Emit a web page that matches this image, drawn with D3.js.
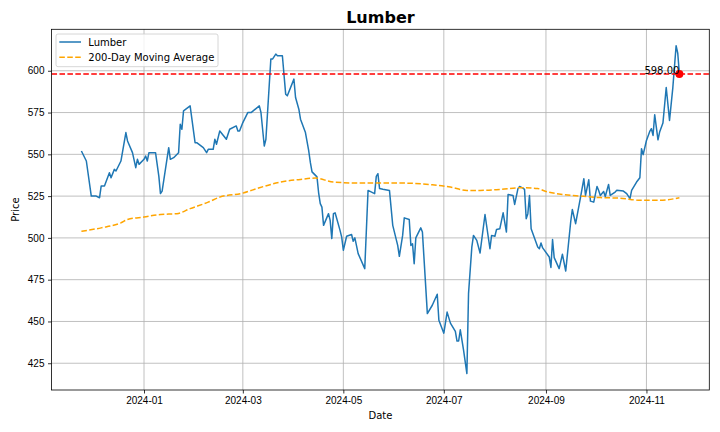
<!DOCTYPE html>
<html lang="en">
<head>
<meta charset="utf-8" />
<script src="https://cdn.jsdelivr.net/npm/d3@7"></script>
<style>
  body { margin: 0; background: #fff; }
  svg { font-family: "DejaVu Sans", sans-serif; }
  .grid line { stroke: #b0b0b0; stroke-width: 0.8; }
  .axis text { font-size: 10px; fill: #000; }
  .axis path, .axis line { stroke: #000; stroke-width: 0.8; }
</style>
</head>
<body>
<script>
// Lumber closing prices
var priceDates = [
  "2023-11-24","2023-11-27","2023-11-30","2023-12-03","2023-12-05","2023-12-06","2023-12-08","2023-12-11",
  "2023-12-12","2023-12-14","2023-12-15","2023-12-18","2023-12-21","2023-12-22","2023-12-25","2023-12-27",
  "2023-12-28","2023-12-29","2024-01-01","2024-01-02","2024-01-03","2024-01-04","2024-01-08","2024-01-10",
  "2024-01-11","2024-01-12","2024-01-16","2024-01-17","2024-01-19","2024-01-22","2024-01-23","2024-01-24",
  "2024-01-25","2024-01-29","2024-02-01","2024-02-02","2024-02-06","2024-02-08","2024-02-09","2024-02-12",
  "2024-02-13","2024-02-14","2024-02-16","2024-02-20","2024-02-22","2024-02-26","2024-02-27","2024-02-28",
  "2024-03-01","2024-03-04","2024-03-06","2024-03-11","2024-03-12","2024-03-14","2024-03-15","2024-03-18",
  "2024-03-19","2024-03-21","2024-03-22","2024-03-25","2024-03-27","2024-03-28","2024-04-01","2024-04-02",
  "2024-04-04","2024-04-05","2024-04-08","2024-04-10","2024-04-11","2024-04-12","2024-04-15","2024-04-16",
  "2024-04-17","2024-04-18","2024-04-19","2024-04-22","2024-04-23","2024-04-24","2024-04-25","2024-04-26",
  "2024-04-29","2024-04-30","2024-05-01","2024-05-03","2024-05-06","2024-05-07","2024-05-08","2024-05-10",
  "2024-05-14","2024-05-16","2024-05-20","2024-05-21","2024-05-22","2024-05-23","2024-05-25","2024-05-29",
  "2024-05-31","2024-06-03","2024-06-04","2024-06-06","2024-06-07","2024-06-10","2024-06-11","2024-06-12",
  "2024-06-13","2024-06-14","2024-06-17","2024-06-18","2024-06-21","2024-06-24","2024-06-27","2024-06-28",
  "2024-07-01","2024-07-03","2024-07-05","2024-07-08","2024-07-09","2024-07-10","2024-07-11","2024-07-13",
  "2024-07-15","2024-07-16","2024-07-18","2024-07-19","2024-07-21","2024-07-23","2024-07-26","2024-07-29",
  "2024-07-30","2024-08-01","2024-08-02","2024-08-04","2024-08-06","2024-08-08","2024-08-09","2024-08-12",
  "2024-08-13","2024-08-15","2024-08-16","2024-08-18","2024-08-19","2024-08-20","2024-08-21","2024-08-22",
  "2024-08-23","2024-08-27","2024-08-28","2024-08-29","2024-08-30","2024-09-03","2024-09-04","2024-09-05",
  "2024-09-06","2024-09-09","2024-09-11","2024-09-13","2024-09-16","2024-09-17","2024-09-19","2024-09-22",
  "2024-09-24","2024-09-25","2024-09-27","2024-09-28","2024-09-30","2024-10-02","2024-10-03","2024-10-04",
  "2024-10-06","2024-10-07","2024-10-09","2024-10-10","2024-10-13","2024-10-14","2024-10-18","2024-10-20",
  "2024-10-22","2024-10-23","2024-10-26","2024-10-28","2024-10-29","2024-10-30","2024-11-01","2024-11-03",
  "2024-11-04","2024-11-05","2024-11-06","2024-11-08","2024-11-09","2024-11-11","2024-11-13","2024-11-15",
  "2024-11-17","2024-11-19","2024-11-20","2024-11-21"
];
var priceValues = [
  552, 546, 525, 525, 524, 531, 531, 539,
  536, 541, 540, 546, 563, 558, 551, 542,
  547, 544, 547, 549, 546, 551, 551, 537,
  526.5, 528, 554, 547, 548, 551, 568, 565,
  576, 579, 557, 557, 554, 551, 553, 553,
  559, 556, 564, 559, 565, 567, 564, 564,
  569, 575, 575, 579, 575, 555, 559, 607,
  607, 610, 609, 609, 586, 585, 595, 584,
  577, 571, 563, 552, 545, 539.5, 536.5, 527,
  520.5, 518.4, 507.5, 514.5, 510.5, 499.6, 514.5, 515,
  504.5, 500.5, 492.6, 501, 502, 498, 500, 490.6,
  481.6, 528.4, 526.5, 536.8, 538.4, 529.5, 529.1, 528.4,
  507.5, 495.5, 489, 501.5, 512, 511, 495.5, 496.5,
  484.6, 500, 506, 503.5, 454.7, 459.7, 466.3, 450.7,
  443, 455.6, 449, 444, 438.3, 438.3, 445, 432.7,
  418.8, 466.7, 494.5, 501.5, 498.5, 491, 514, 493.5,
  501.5, 501, 505, 505.5, 515, 503.5, 526, 525.4,
  520, 529.5, 530.8, 529.8, 529, 511.5, 514.5, 525.4,
  505.5, 494.5, 493.5, 497, 494, 488.6, 482.3, 499,
  488.2, 481.6, 490.2, 480.2, 509.5, 517, 508.5, 524.4,
  535.4, 525.4, 534.8, 522, 521.4, 530.8, 528.4, 525.4,
  527.8, 524.8, 532, 525.4, 527.4, 528.5, 528, 526.5,
  523.5, 528.4, 533.4, 536, 553.4, 549.8, 558.3, 563.7,
  565.3, 561.3, 573.7, 558.7, 563.3, 568.7, 590, 570.3,
  589.8, 615, 610.5, 598
];

// 200-day moving average
var maDates = [
  "2023-11-24","2023-12-06","2023-12-18","2023-12-22","2024-01-01","2024-01-11","2024-01-21","2024-01-29",
  "2024-02-09","2024-02-16","2024-03-01","2024-03-11","2024-03-24","2024-04-05","2024-04-14","2024-04-25",
  "2024-05-11","2024-06-04","2024-06-24","2024-07-05","2024-07-15","2024-07-23","2024-08-04","2024-08-16",
  "2024-08-27","2024-09-01","2024-09-11","2024-09-22","2024-10-04","2024-10-16","2024-10-28","2024-11-09",
  "2024-11-21"
];
var maValues = [
  504, 506, 509, 511, 512.5, 514, 514.5, 517.5,
  521.4, 524.4, 526.8, 530, 533.4, 535, 535.8, 533.4,
  532.8, 532.8, 531.8, 530.4, 528.4, 528.4, 529, 530,
  529.5, 527.8, 526, 525, 524.1, 523.8, 522.5, 522.5,
  524
];

var lastPrice = 598;
var yTicks = [425, 450, 475, 500, 525, 550, 575, 600];
var xTickLabels = ["2024-01", "2024-03", "2024-05", "2024-07", "2024-09", "2024-11"];

var width = 720, height = 432;
var margin = { top: 29.3, right: 10.7, bottom: 42, left: 51.5 };
var innerW = width - margin.left - margin.right,
    innerH = height - margin.top - margin.bottom;

var parse = d3.timeParse("%Y-%m-%d"),
    parseMonth = d3.timeParse("%Y-%m");

var price = priceDates.map(function (d, i) { return { date: parse(d), value: priceValues[i] }; });
var ma = maDates.map(function (d, i) { return { date: parse(d), value: maValues[i] }; });

// matplotlib style 5% margins
var xExt = d3.extent(price, function (d) { return d.date; });
var xPad = (xExt[1] - xExt[0]) * 0.05;
var yExt = d3.extent(price.concat(ma), function (d) { return d.value; });
var yPad = (yExt[1] - yExt[0]) * 0.05;

var x = d3.scaleTime()
    .domain([new Date(+xExt[0] - xPad), new Date(+xExt[1] + xPad)])
    .range([0, innerW]);
var y = d3.scaleLinear()
    .domain([yExt[0] - yPad, yExt[1] + yPad])
    .range([innerH, 0]);

var svg = d3.select("body").append("svg")
    .attr("width", width)
    .attr("height", height);

svg.append("text")
    .attr("x", margin.left + innerW / 2)
    .attr("y", 23)
    .attr("text-anchor", "middle")
    .style("font-size", "16px")
    .style("font-weight", "bold")
    .text("Lumber");

var g = svg.append("g").attr("transform", "translate(" + margin.left + "," + margin.top + ")");

var xTicks = xTickLabels.map(function (s) { return parseMonth(s); });

// grid
g.append("g").attr("class", "grid")
    .selectAll("line").data(xTicks).enter().append("line")
    .attr("x1", function (d) { return x(d); }).attr("x2", function (d) { return x(d); })
    .attr("y1", 0).attr("y2", innerH);
g.append("g").attr("class", "grid")
    .selectAll("line").data(yTicks).enter().append("line")
    .attr("x1", 0).attr("x2", innerW)
    .attr("y1", function (d) { return y(d); }).attr("y2", function (d) { return y(d); });

var clip = g.append("clipPath").attr("id", "clip")
    .append("rect").attr("width", innerW).attr("height", innerH);

var plot = g.append("g").attr("clip-path", "url(#clip)");

var line = d3.line()
    .x(function (d) { return x(d.date); })
    .y(function (d) { return y(d.value); });

plot.append("path")
    .datum(price)
    .attr("fill", "none")
    .attr("stroke", "#1f77b4")
    .attr("stroke-width", 1.5)
    .attr("stroke-linejoin", "round")
    .attr("d", line);

plot.append("path")
    .datum(ma)
    .attr("fill", "none")
    .attr("stroke", "orange")
    .attr("stroke-width", 1.5)
    .attr("stroke-dasharray", "5.55,2.4")
    .attr("d", line.curve(d3.curveMonotoneX));

// latest price line, dot and label
plot.append("line")
    .attr("x1", 0).attr("x2", innerW)
    .attr("y1", y(lastPrice)).attr("y2", y(lastPrice))
    .attr("stroke", "red")
    .attr("stroke-width", 1.5)
    .attr("stroke-dasharray", "5.55,2.4");

var last = price[price.length - 1];
g.append("circle")
    .attr("cx", x(last.date))
    .attr("cy", y(last.value))
    .attr("r", 4)
    .attr("fill", "red");

g.append("text")
    .attr("x", x(last.date))
    .attr("y", y(last.value) - 0.5)
    .attr("text-anchor", "end")
    .style("font-size", "10px")
    .text(last.value.toFixed(2));

// axes
g.append("g").attr("class", "axis")
    .attr("transform", "translate(0," + innerH + ")")
    .call(d3.axisBottom(x).tickValues(xTicks).tickFormat(d3.timeFormat("%Y-%m")).tickSizeOuter(0).tickSize(3.5).tickPadding(3.5));
g.append("g").attr("class", "axis")
    .call(d3.axisLeft(y).tickValues(yTicks).tickSizeOuter(0).tickSize(3.5).tickPadding(3.5));

g.selectAll(".axis .domain").remove();
g.append("rect")
    .attr("width", innerW).attr("height", innerH)
    .attr("fill", "none").attr("stroke", "#000").attr("stroke-width", 0.8);

svg.append("text")
    .attr("x", margin.left + innerW / 2)
    .attr("y", 419)
    .attr("text-anchor", "middle")
    .style("font-size", "10px")
    .text("Date");

svg.append("text")
    .attr("transform", "translate(19," + (margin.top + innerH / 2) + ") rotate(-90)")
    .attr("text-anchor", "middle")
    .style("font-size", "10px")
    .text("Price");

// legend
var leg = g.append("g").attr("transform", "translate(4.5,4.7)");
leg.append("rect")
    .attr("width", 162).attr("height", 32.7).attr("rx", 2)
    .attr("fill", "#fff").attr("fill-opacity", 0.8)
    .attr("stroke", "#ccc").attr("stroke-width", 0.8);
var items = [
  { name: "Lumber", color: "#1f77b4", dash: null },
  { name: "200-Day Moving Average", color: "orange", dash: "5.55,2.4" }
];
items.forEach(function (it, i) {
  var yy = 8 + i * 15.3;
  leg.append("line")
      .attr("x1", 3.3).attr("x2", 25).attr("y1", yy).attr("y2", yy)
      .attr("stroke", it.color).attr("stroke-width", 1.5)
      .attr("stroke-dasharray", it.dash);
  leg.append("text")
      .attr("x", 32.3).attr("y", yy + 3.6)
      .style("font-size", "10px")
      .text(it.name);
});
</script>
</body>
</html>
